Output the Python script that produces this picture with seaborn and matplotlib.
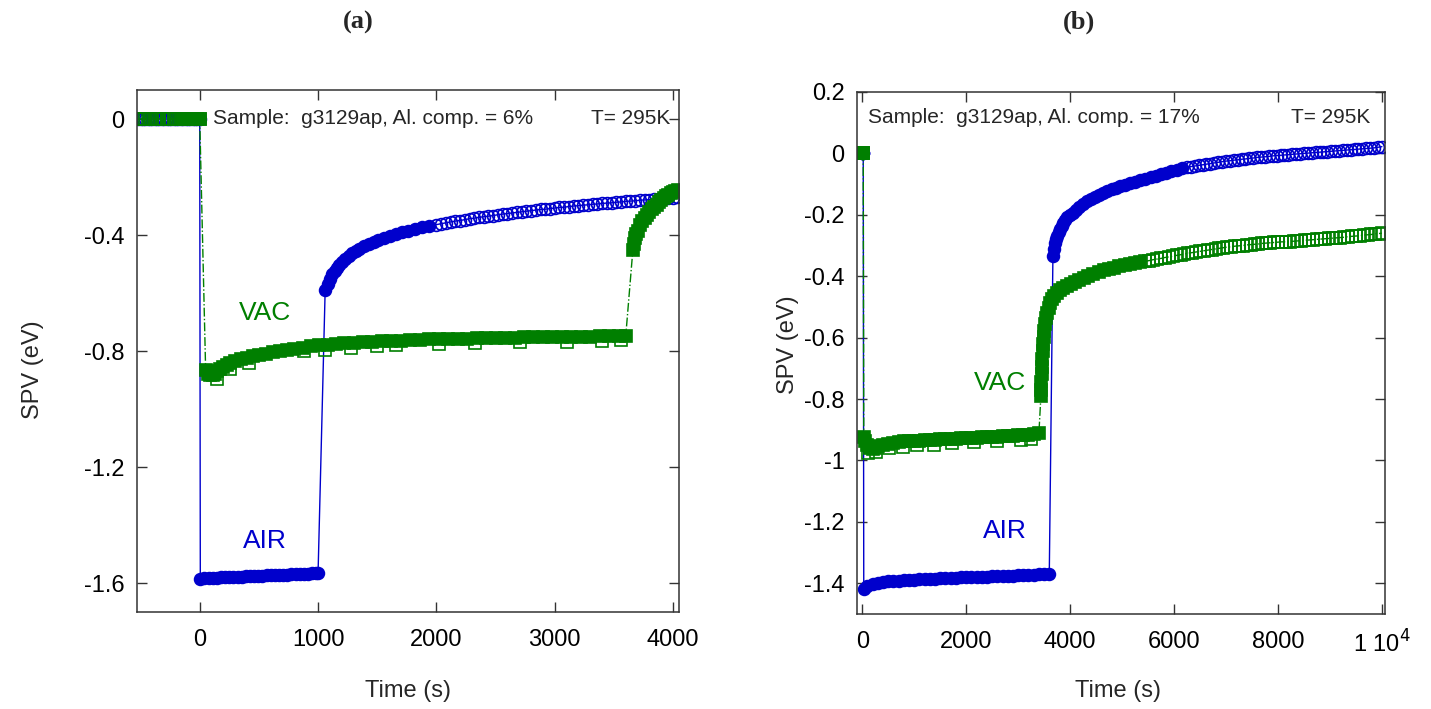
import numpy as np
import pandas as pd
import matplotlib
matplotlib.use("Agg")
import matplotlib.pyplot as plt
import seaborn as sns

# ---------------- data : panel (a) ----------------
a_pre_t = [-520, -500, -480, -460, -440, -420, -400, -380, -360, -340, -320, -300, -280,
           -260, -240, -220, -200, -180, -160, -140, -120, -100, -80, -60, -40, -20, 0]
a_pre_v = [0.0] * len(a_pre_t)

a_air1_t = [5, 40, 75, 110, 145, 180, 215, 250, 285, 320, 355, 390, 425, 460, 495, 530,
            565, 600, 635, 670, 705, 740, 775, 810, 845, 880, 915, 950, 985, 1000]
a_air1_v = [-1.586, -1.584, -1.583, -1.582, -1.582, -1.581, -1.580, -1.580, -1.579, -1.578,
            -1.578, -1.577, -1.577, -1.576, -1.576, -1.575, -1.574, -1.574, -1.573, -1.572,
            -1.572, -1.571, -1.570, -1.570, -1.569, -1.568, -1.568, -1.567, -1.566, -1.566]

a_air2_t = [1060, 1080, 1100, 1120, 1140, 1160, 1180, 1200, 1230, 1260, 1290, 1320, 1350,
            1390, 1430, 1470, 1510, 1560, 1610, 1660, 1710, 1760, 1820, 1880, 1940]
a_air2_v = [-0.590, -0.568, -0.550, -0.536, -0.524, -0.513, -0.503, -0.494, -0.482, -0.472,
            -0.463, -0.455, -0.448, -0.439, -0.431, -0.424, -0.417, -0.410, -0.403, -0.397,
            -0.391, -0.385, -0.379, -0.374, -0.369]

a_air3_t = [2000, 2040, 2080, 2120, 2160, 2200, 2240, 2280, 2320, 2360, 2400, 2440, 2480,
            2520, 2560, 2600, 2640, 2680, 2720, 2760, 2800, 2840, 2880, 2920, 2960, 3000,
            3040, 3080, 3120, 3160, 3200, 3240, 3280, 3320, 3360, 3400, 3440, 3480, 3520,
            3560, 3600, 3640, 3680, 3720, 3760, 3800, 3840, 3880, 3920, 3960, 4000, 4030]
a_air3_v = [-0.364, -0.361, -0.358, -0.355, -0.352, -0.350, -0.347, -0.344, -0.342, -0.339,
            -0.337, -0.335, -0.333, -0.330, -0.328, -0.326, -0.324, -0.322, -0.320, -0.318,
            -0.316, -0.314, -0.312, -0.311, -0.309, -0.307, -0.305, -0.304, -0.302, -0.300,
            -0.299, -0.297, -0.296, -0.294, -0.293, -0.291, -0.290, -0.289, -0.287, -0.286,
            -0.284, -0.283, -0.282, -0.280, -0.279, -0.278, -0.276, -0.275, -0.274, -0.272,
            -0.271, -0.270]

a_vac1_t = [50, 70, 90, 110, 130, 150, 170, 200, 230, 260, 300, 350, 400, 450, 500, 560,
            620, 680, 740, 800, 870, 940, 1010, 1080, 1150, 1220, 1300, 1380, 1460, 1540,
            1620, 1700, 1780, 1860, 1940, 2020, 2100, 2180, 2260, 2340, 2420, 2500, 2580,
            2660, 2740, 2820, 2900, 2980, 3060, 3140, 3220, 3300, 3380, 3460, 3540, 3600]
a_vac1_v = [-0.865, -0.878, -0.884, -0.884, -0.878, -0.870, -0.863, -0.856, -0.849, -0.843,
            -0.836, -0.829, -0.823, -0.818, -0.814, -0.809, -0.804, -0.800, -0.796, -0.792,
            -0.788, -0.784, -0.781, -0.778, -0.776, -0.774, -0.772, -0.770, -0.768, -0.767,
            -0.765, -0.764, -0.763, -0.761, -0.760, -0.759, -0.758, -0.757, -0.757, -0.756,
            -0.755, -0.755, -0.754, -0.754, -0.753, -0.753, -0.752, -0.752, -0.751, -0.751,
            -0.750, -0.750, -0.749, -0.749, -0.748, -0.748]

# scattered squares lying just below the VAC band
a_vacs_t = [150, 260, 420, 880, 1060, 1280, 1500, 1660, 2020, 2330, 2710, 3100, 3400, 3560]
a_vacs_v = [-0.895, -0.862, -0.842, -0.800, -0.796, -0.790, -0.783, -0.778, -0.775, -0.772,
            -0.770, -0.768, -0.766, -0.763]

a_vac2_t = [3660, 3670, 3680, 3690, 3700, 3720, 3740, 3760, 3780, 3800, 3820, 3840, 3860,
            3880, 3900, 3920, 3940, 3960, 3980, 4000, 4020, 4040]
a_vac2_v = [-0.452, -0.430, -0.412, -0.397, -0.385, -0.367, -0.352, -0.340, -0.330, -0.320,
            -0.311, -0.303, -0.295, -0.287, -0.280, -0.274, -0.267, -0.261, -0.255, -0.250,
            -0.247, -0.245]

# ---------------- data : panel (b) ----------------
b_pre_t = [0, 5, 10, 15, 20]
b_pre_v = [0.0, 0.0, 0.0, 0.0, 0.0]

b_air1_t = [30, 100, 200, 300, 400, 500, 600, 700, 800, 900, 1000, 1100, 1200, 1300, 1400,
            1500, 1600, 1700, 1800, 1900, 2000, 2100, 2200, 2300, 2400, 2500, 2600, 2700,
            2800, 2900, 3000, 3100, 3200, 3300, 3400, 3500, 3600]
b_air1_v = [-1.418, -1.410, -1.403, -1.399, -1.396, -1.394, -1.393, -1.392, -1.390, -1.389,
            -1.388, -1.387, -1.386, -1.386, -1.385, -1.384, -1.383, -1.383, -1.382, -1.381,
            -1.381, -1.380, -1.379, -1.379, -1.378, -1.377, -1.377, -1.376, -1.375, -1.375,
            -1.374, -1.373, -1.373, -1.372, -1.371, -1.371, -1.370]

b_air2_t = [3670, 3690, 3710, 3730, 3750, 3780, 3810, 3840, 3870, 3910, 3950, 4000, 4060,
            4120, 4180, 4250, 4320, 4400, 4480, 4560, 4640, 4720, 4800, 4880, 4960, 5050,
            5150, 5250, 5350, 5450, 5550, 5650, 5750, 5850, 5950, 6050, 6150]
b_air2_v = [-0.334, -0.310, -0.293, -0.280, -0.270, -0.257, -0.245, -0.235, -0.226, -0.216,
            -0.208, -0.200, -0.193, -0.184, -0.176, -0.166, -0.156, -0.148, -0.141, -0.134,
            -0.128, -0.122, -0.117, -0.112, -0.107, -0.102, -0.097, -0.092, -0.087, -0.082,
            -0.077, -0.073, -0.068, -0.063, -0.058, -0.053, -0.049]

b_air3_t = [6250, 6325, 6400, 6475, 6550, 6625, 6700, 6775, 6850, 6925, 7000, 7075, 7150,
            7225, 7300, 7375, 7450, 7525, 7600, 7675, 7750, 7825, 7900, 7975, 8050, 8125,
            8200, 8275, 8350, 8425, 8500, 8575, 8650, 8725, 8800, 8875, 8950, 9025, 9100,
            9175, 9250, 9325, 9400, 9475, 9550, 9625, 9700, 9775, 9850, 9925, 10000]
b_air3_v = [-0.045, -0.043, -0.041, -0.039, -0.037, -0.035, -0.033, -0.031, -0.029, -0.027,
            -0.025, -0.024, -0.022, -0.021, -0.019, -0.018, -0.016, -0.015, -0.013, -0.012,
            -0.011, -0.010, -0.008, -0.007, -0.006, -0.005, -0.004, -0.003, -0.002, -0.001,
            0.000, 0.001, 0.002, 0.003, 0.004, 0.005, 0.006, 0.007, 0.008, 0.009, 0.010,
            0.011, 0.012, 0.013, 0.014, 0.015, 0.016, 0.017, 0.018, 0.020, 0.022]

b_vac1_t = [30, 60, 100, 150, 200, 250, 300, 400, 500, 600, 700, 800, 900, 1000, 1100,
            1200, 1300, 1400, 1500, 1600, 1700, 1800, 1900, 2000, 2100, 2200, 2300, 2400,
            2500, 2600, 2700, 2800, 2900, 3000, 3100, 3200, 3300, 3400]
b_vac1_v = [-0.925, -0.935, -0.950, -0.960, -0.963, -0.958, -0.953, -0.948, -0.945, -0.942,
            -0.940, -0.938, -0.937, -0.936, -0.935, -0.934, -0.933, -0.932, -0.931, -0.930,
            -0.930, -0.929, -0.928, -0.928, -0.927, -0.926, -0.925, -0.924, -0.923, -0.922,
            -0.921, -0.920, -0.919, -0.918, -0.917, -0.916, -0.914, -0.912]

b_vacs_t = [120, 260, 520, 780, 1050, 1380, 1720, 2150, 2600, 3050, 3250]
b_vacs_v = [-0.975, -0.972, -0.960, -0.955, -0.950, -0.948, -0.944, -0.940, -0.936, -0.932,
            -0.930]

b_vac2_t = [3440, 3445, 3450, 3455, 3460, 3465, 3470, 3480, 3490, 3500, 3520, 3540, 3560,
            3590, 3620, 3660, 3700, 3750, 3800, 3870, 3940, 4020, 4100, 4180, 4260, 4350,
            4450, 4550, 4650, 4750, 4850, 4950, 5050, 5150, 5250, 5350]
b_vac2_v = [-0.790, -0.770, -0.745, -0.720, -0.695, -0.670, -0.645, -0.620, -0.598, -0.578,
            -0.555, -0.535, -0.520, -0.502, -0.487, -0.473, -0.463, -0.453, -0.446, -0.438,
            -0.431, -0.424, -0.418, -0.412, -0.406, -0.400, -0.393, -0.387, -0.381, -0.376,
            -0.372, -0.368, -0.364, -0.360, -0.357, -0.354]

b_vac3_t = [5450, 5525, 5600, 5675, 5750, 5825, 5900, 5975, 6050, 6125, 6200, 6275, 6350,
            6425, 6500, 6575, 6650, 6725, 6800, 6875, 6950, 7025, 7100, 7175, 7250, 7325,
            7400, 7475, 7550, 7625, 7700, 7775, 7850, 7925, 8000, 8075, 8150, 8225, 8300,
            8375, 8450, 8525, 8600, 8675, 8750, 8825, 8900, 8975, 9050, 9125, 9200, 9275,
            9350, 9425, 9500, 9575, 9650, 9725, 9800, 9875, 9950, 10000]
b_vac3_v = [-0.351, -0.349, -0.346, -0.344, -0.342, -0.339, -0.337, -0.335, -0.332, -0.330,
            -0.328, -0.325, -0.323, -0.321, -0.319, -0.317, -0.315, -0.313, -0.311, -0.309,
            -0.307, -0.305, -0.304, -0.302, -0.301, -0.300, -0.298, -0.297, -0.296, -0.295,
            -0.293, -0.292, -0.291, -0.290, -0.289, -0.288, -0.288, -0.287, -0.286, -0.285,
            -0.284, -0.283, -0.282, -0.281, -0.280, -0.279, -0.278, -0.277, -0.276, -0.275,
            -0.274, -0.273, -0.271, -0.270, -0.269, -0.268, -0.266, -0.265, -0.264, -0.262,
            -0.261, -0.260]

# ticks
a_xticks = [0, 1000, 2000, 3000, 4000]
a_xticklabels = ["0", "1000", "2000", "3000", "4000"]
a_yticks = [0, -0.4, -0.8, -1.2, -1.6]
a_yticklabels = ["0", "-0.4", "-0.8", "-1.2", "-1.6"]
b_xticks = [0, 2000, 4000, 6000, 8000, 10000]
b_xticklabels = ["0", "2000", "4000", "6000", "8000", r"1 10$^{4}$"]
b_yticks = [0.2, 0, -0.2, -0.4, -0.6, -0.8, -1.0, -1.2, -1.4]
b_yticklabels = ["0.2", "0", "-0.2", "-0.4", "-0.6", "-0.8", "-1", "-1.2", "-1.4"]

# ---------------- styling ----------------
sns.set_theme(style="ticks")
plt.rcParams["font.family"] = ["Liberation Sans", "DejaVu Sans"]
plt.rcParams["axes.unicode_minus"] = False

BLUE = "#0000CC"
GREEN = "#007F00"
MS = 8.5

fig = plt.figure(figsize=(14.31, 7.09), dpi=100)
axa = fig.add_axes([137 / 1431, 1 - 612 / 709, 542 / 1431, 522 / 709])
axb = fig.add_axes([857 / 1431, 1 - 614 / 709, 528 / 1431, 522 / 709])


def frame(*parts):
    t, v = [], []
    for pt, pv in parts:
        t += list(pt)
        v += list(pv)
    return pd.DataFrame({"t": t, "v": v})


def line(ax, parts, color, ls):
    sns.lineplot(data=frame(*parts), x="t", y="v", ax=ax, sort=False, estimator=None,
                 color=color, lw=1.0, linestyle=ls)


def marks(ax, part, color, marker, filled):
    sns.lineplot(data=frame(part), x="t", y="v", ax=ax, sort=False, estimator=None,
                 color=color, lw=0, marker=marker, markersize=MS,
                 markerfacecolor=color if filled else "none",
                 markeredgecolor=color, markeredgewidth=1.2)


# panel (a)
line(axa, [(a_pre_t, a_pre_v), (a_air1_t, a_air1_v), (a_air2_t, a_air2_v), (a_air3_t, a_air3_v)], BLUE, "-")
marks(axa, (a_pre_t, a_pre_v), BLUE, "o", False)
marks(axa, (a_air1_t, a_air1_v), BLUE, "o", True)
marks(axa, (a_air2_t, a_air2_v), BLUE, "o", True)
marks(axa, (a_air3_t, a_air3_v), BLUE, "o", False)
line(axa, [(a_pre_t, a_pre_v), (a_vac1_t, a_vac1_v), (a_vac2_t, a_vac2_v)], GREEN, "-.")
marks(axa, (a_pre_t[-8:], a_pre_v[-8:]), GREEN, "s", True)
marks(axa, (a_pre_t, a_pre_v), GREEN, "s", False)
marks(axa, (a_vacs_t, a_vacs_v), GREEN, "s", False)
marks(axa, (a_vac1_t, a_vac1_v), GREEN, "s", True)
marks(axa, (a_vac2_t, a_vac2_v), GREEN, "s", True)

# panel (b)
line(axb, [(b_pre_t, b_pre_v), (b_air1_t, b_air1_v), (b_air2_t, b_air2_v), (b_air3_t, b_air3_v)], BLUE, "-")
marks(axb, (b_pre_t, b_pre_v), BLUE, "o", False)
marks(axb, (b_air1_t, b_air1_v), BLUE, "o", True)
marks(axb, (b_air2_t, b_air2_v), BLUE, "o", True)
marks(axb, (b_air3_t, b_air3_v), BLUE, "o", False)
line(axb, [(b_pre_t, b_pre_v), (b_vac1_t, b_vac1_v), (b_vac2_t, b_vac2_v), (b_vac3_t, b_vac3_v)], GREEN, "-.")
marks(axb, (b_pre_t, b_pre_v), GREEN, "s", True)
marks(axb, (b_vacs_t, b_vacs_v), GREEN, "s", False)
marks(axb, (b_vac1_t, b_vac1_v), GREEN, "s", True)
marks(axb, (b_vac2_t, b_vac2_v), GREEN, "s", True)
marks(axb, (b_vac3_t, b_vac3_v), GREEN, "s", False)

axa.set_xlim(-530, 4050)
axa.set_ylim(-1.7, 0.1)
axb.set_xlim(-100, 10060)
axb.set_ylim(-1.5, 0.2)

for ax, xt, xtl, yt, ytl in [(axa, a_xticks, a_xticklabels, a_yticks, a_yticklabels),
                             (axb, b_xticks, b_xticklabels, b_yticks, b_yticklabels)]:
    ax.set_xticks(xt)
    ax.set_xticklabels(xtl)
    ax.set_yticks(yt)
    ax.set_yticklabels(ytl)
    ax.tick_params(axis="both", direction="in", top=True, right=True, length=7,
                   width=1, colors="#333333", labelcolor="black", labelsize=17)
    ax.tick_params(axis="x", pad=12)
    ax.tick_params(axis="y", pad=9)
    for s in ax.spines.values():
        s.set_visible(True)
        s.set_color("#333333")
        s.set_linewidth(1.1)
    ax.set_xlabel("Time (s)", fontsize=17)
    ax.set_ylabel("SPV (eV)", fontsize=17)

axa.xaxis.set_label_coords(0.5, -0.130)
axb.xaxis.set_label_coords(0.494, -0.126)
axa.yaxis.set_label_coords(-0.172, 0.464)
axb.yaxis.set_label_coords(-0.110, 0.515)

axa.text(0.14, 0.946, "Sample:  g3129ap, Al. comp. = 6%", transform=axa.transAxes,
         fontsize=15, va="center", ha="left")
axa.text(0.985, 0.946, "T= 295K", transform=axa.transAxes, fontsize=15, va="center", ha="right")
axb.text(0.021, 0.952, "Sample:  g3129ap, Al. comp. = 17%", transform=axb.transAxes,
         fontsize=15, va="center", ha="left")
axb.text(0.972, 0.952, "T= 295K", transform=axb.transAxes, fontsize=15, va="center", ha="right")

axa.text(549, -0.669, "VAC", color=GREEN, fontsize=19, ha="center", va="center")
axa.text(549, -1.455, "AIR", color=BLUE, fontsize=19, ha="center", va="center")
axb.text(2654, -0.747, "VAC", color=GREEN, fontsize=19, ha="center", va="center")
axb.text(2750, -1.231, "AIR", color=BLUE, fontsize=19, ha="center", va="center")

fig.text(358 / 1431, 1 - 22 / 709, "(a)", fontsize=19, fontweight="bold",
         family="Liberation Serif", ha="center", va="center")
fig.text(1079 / 1431, 1 - 22 / 709, "(b)", fontsize=19, fontweight="bold",
         family="Liberation Serif", ha="center", va="center")

fig.savefig("out.png", dpi=100)
